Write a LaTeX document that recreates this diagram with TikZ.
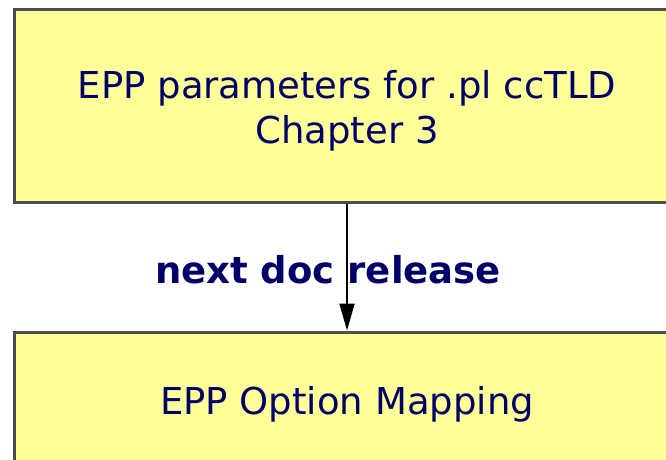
\documentclass[tikz,border=0pt]{standalone}
\usepackage{fontspec}
\setmainfont{DejaVu Sans}
\usetikzlibrary{arrows.meta}
\definecolor{boxfill}{HTML}{FFFF99}
\definecolor{boxline}{HTML}{4D4D4D}
\definecolor{navy}{HTML}{000066}
\tikzset{
  box/.style={draw=boxline, line width=3pt, fill=boxfill,
    minimum width=666pt, inner sep=0pt},
  boxtext/.style={text=navy, align=center, inner sep=0pt,
    font=\fontsize{37}{45}\selectfont},
  conn/.style={line width=2pt, -{Triangle[length=27pt,width=15pt]}},
  lbl/.style={text=navy, font=\fontsize{37}{40}\selectfont\bfseries, inner sep=0pt}
}
\begin{document}
\begin{tikzpicture}[x=1pt,y=-1pt]
\useasboundingbox (0,0) rectangle (666,460);
\node[box, minimum height=192pt,
  label={[boxtext, yshift=-5pt]center:{EPP parameters for .pl ccTLD\\Chapter 3}}] (top) at (347,106) {};
\node[box, minimum height=138pt,
  label={[boxtext, yshift=-3pt]center:{EPP Option Mapping}}] (bot) at (347,401) {};
\node[lbl, anchor=base] (lab) at (328,283) {next doc release};
\draw[conn] (top.south) -- (bot.north);
\end{tikzpicture}
\end{document}
